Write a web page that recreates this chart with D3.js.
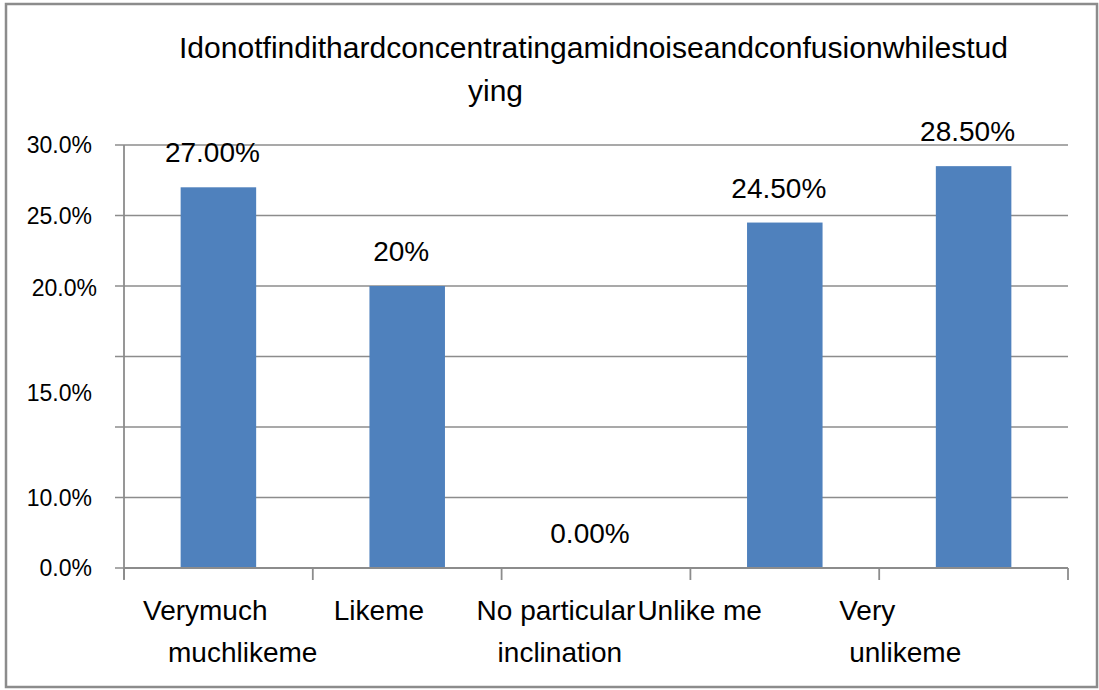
<!DOCTYPE html>
<html>
<head>
<meta charset="utf-8">
<script src="https://cdn.jsdelivr.net/npm/d3@7"></script>
<style>
  body { margin: 0; background: #fff; }
  text { font-family: "Liberation Sans", Arial, sans-serif; fill: #000; }
</style>
</head>
<body>
<script>
var categories = ["Verymuch muchlikeme", "Likeme", "No particular inclination", "Unlike me", "Very unlikeme"];
var categoryLines = [["Verymuch", "muchlikeme"], ["Likeme"], ["No particular", "inclination"], ["Unlike me"], ["Very", "unlikeme"]];
var values = [27, 20, 0, 24.5, 28.5];
var valueLabels = ["27.00%", "20%", "0.00%", "24.50%", "28.50%"];
var gridValues = [0, 5, 10, 15, 20, 25, 30];
var yTickAt = [0, 5, 12.4, 19.85, 25, 30];
var yTickLabels = ["0.0%", "10.0%", "15.0%", "20.0%", "25.0%", "30.0%"];
var titleLines = ["Idonotfindithardconcentratingamidnoiseandconfusionwhilestud", "ying"];

var W = 1099, H = 690;
var svg = d3.select("body").append("svg")
    .attr("width", W)
    .attr("height", H);

// outer frame
svg.append("rect")
    .attr("x", 6).attr("y", 4)
    .attr("width", 1091).attr("height", 683)
    .attr("fill", "#fff")
    .attr("stroke", "#8c8c8c")
    .attr("stroke-width", 2.5);

var x = d3.scaleBand()
    .domain(categories)
    .range([124, 1068])
    .paddingInner(0.6)
    .paddingOuter(0.3);

var y = d3.scaleLinear().domain([0, 30]).range([568, 145]);

// gridlines + left ticks
svg.selectAll("line.grid")
    .data(gridValues)
    .enter()
    .append("line")
    .attr("class", "grid")
    .attr("x1", 115)
    .attr("x2", 1068)
    .attr("y1", function(d) { return y(d); })
    .attr("y2", function(d) { return y(d); })
    .attr("stroke", "#8c8c8c")
    .attr("stroke-width", 1.6);

// y axis line
svg.append("line")
    .attr("x1", 124).attr("x2", 124)
    .attr("y1", y(30)).attr("y2", 579)
    .attr("stroke", "#8c8c8c")
    .attr("stroke-width", 1.8);

// y tick labels (the 20.0% one sits a little to the right in the original)
svg.selectAll("text.ytick")
    .data(yTickAt)
    .enter()
    .append("text")
    .attr("class", "ytick")
    .attr("x", function(d, i) { return yTickLabels[i] == "20.0%" ? 97 : 92; })
    .attr("y", function(d) { return y(d); })
    .attr("dy", "0.36em")
    .attr("text-anchor", "end")
    .style("font-size", "23px")
    .text(function(d, i) { return yTickLabels[i]; });

// bars
svg.selectAll("rect.bar")
    .data(values)
    .enter()
    .append("rect")
    .attr("class", "bar")
    .attr("x", function(d, i) { return x(categories[i]); })
    .attr("y", function(d) { return y(d); })
    .attr("width", x.bandwidth())
    .attr("height", function(d) { return y(0) - y(d); })
    .attr("fill", "#4f81bd");

// x axis line + category boundary ticks
svg.append("line")
    .attr("x1", 124).attr("x2", 1068)
    .attr("y1", y(0)).attr("y2", y(0))
    .attr("stroke", "#8c8c8c")
    .attr("stroke-width", 2);

var step = x.step();
var edges = categories.map(function(c) { return x(c) - step * 0.3; });
edges.push(x.range()[1]);
svg.selectAll("line.xtick")
    .data(edges)
    .enter()
    .append("line")
    .attr("class", "xtick")
    .attr("x1", function(d) { return d; })
    .attr("x2", function(d) { return d; })
    .attr("y1", y(0))
    .attr("y2", 580)
    .attr("stroke", "#8c8c8c")
    .attr("stroke-width", 1.8);

// value labels
svg.selectAll("text.val")
    .data(values)
    .enter()
    .append("text")
    .attr("class", "val")
    .attr("x", function(d, i) { return x(categories[i]) + x.bandwidth() / 2 - 6; })
    .attr("y", function(d) { return y(d) - 25; })
    .attr("text-anchor", "middle")
    .style("font-size", "28px")
    .text(function(d, i) { return valueLabels[i]; });

// category labels, placed like the wrapped excel labels (offset from band edge)
var labelDx = [[19, 44], [21], [-25, -4], [-53], [-40, -30]];
categoryLines.forEach(function(lines, i) {
    lines.forEach(function(line, j) {
        svg.append("text")
            .attr("x", edges[i] + labelDx[i][j])
            .attr("y", 620 + j * 42)
            .attr("text-anchor", "start")
            .style("font-size", "28px")
            .text(line);
    });
});

// title
svg.append("text")
    .attr("x", 179)
    .attr("y", 58)
    .style("font-size", "30px")
    .attr("textLength", 829)
    .attr("lengthAdjust", "spacingAndGlyphs")
    .text(titleLines[0]);
svg.append("text")
    .attr("x", 468)
    .attr("y", 101)
    .style("font-size", "30px")
    .text(titleLines[1]);
</script>
</body>
</html>
